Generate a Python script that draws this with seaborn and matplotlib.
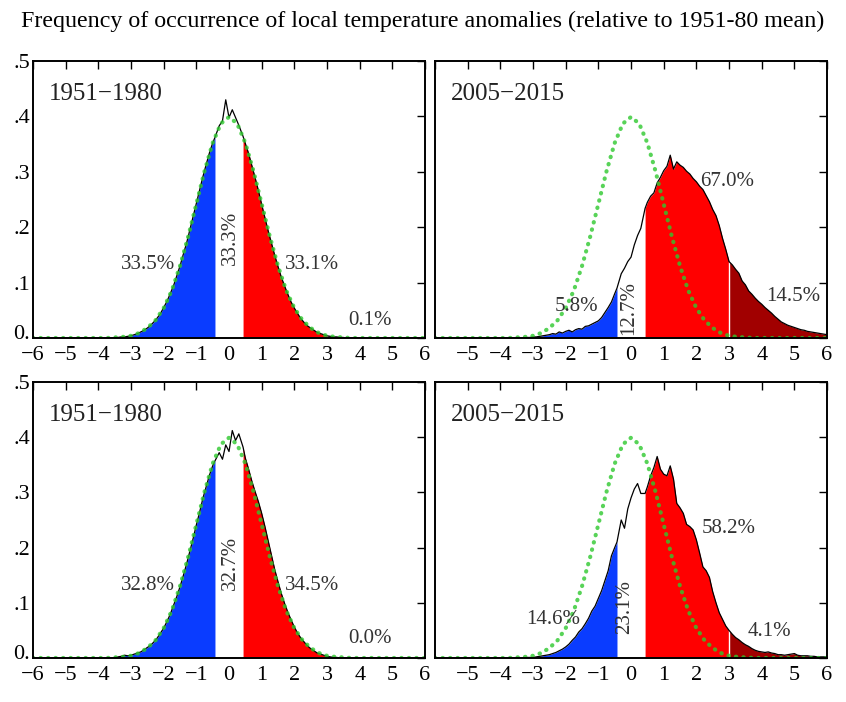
import numpy as np
import matplotlib
matplotlib.use("Agg")
import matplotlib.pyplot as plt
import matplotlib.transforms as mtransforms
import seaborn as sns

sns.set_theme(style="white")
plt.rcParams['font.family'] = ['Liberation Serif', 'DejaVu Serif']

# anomaly grid (sigma units), tercile edges at +-0.43 replace +-0.4
anom = np.round(np.arange(-60, 61) / 10, 2)
anom[anom == -0.4] = -0.43
anom[anom == 0.4] = 0.43

# frequency of occurrence (one value per grid point)
top_1951 = [0.0] * 25 + [
    0.001, 0.001, 0.002, 0.002, 0.003, 0.004, 0.006, 0.008, 0.011, 0.014,
    0.018, 0.023, 0.029, 0.036, 0.044, 0.055, 0.066, 0.080, 0.094, 0.112,
    0.130, 0.151, 0.171, 0.195, 0.219, 0.243, 0.267, 0.291, 0.313, 0.334,
    0.352, 0.362, 0.383, 0.392, 0.430, 0.398, 0.412, 0.398, 0.384, 0.364,
    0.351, 0.333, 0.311, 0.289, 0.266, 0.241, 0.217, 0.193, 0.171, 0.149,
    0.129, 0.110, 0.094, 0.079, 0.065, 0.054, 0.044, 0.035, 0.028, 0.022,
    0.018, 0.014, 0.010, 0.008, 0.006, 0.004, 0.003, 0.002, 0.002, 0.001,
    0.001] + [0.0] * 25

top_2005 = [0.0] * 25 + [
    0.0, 0.0, 0.0, 0.001, 0.001, 0.002, 0.002, 0.003, 0.004, 0.005,
    0.006, 0.008, 0.007, 0.011, 0.009, 0.012, 0.014, 0.011, 0.015, 0.017,
    0.016, 0.021, 0.022, 0.025, 0.028, 0.031, 0.037, 0.046, 0.055, 0.065,
    0.080, 0.090, 0.116, 0.126, 0.138, 0.146, 0.168, 0.185, 0.198, 0.234,
    0.245, 0.256, 0.262, 0.280, 0.290, 0.302, 0.310, 0.330, 0.305, 0.318,
    0.312, 0.308, 0.301, 0.296, 0.288, 0.282, 0.274, 0.268, 0.257, 0.246,
    0.232, 0.221, 0.203, 0.180, 0.160, 0.138, 0.132, 0.124, 0.117, 0.103,
    0.096, 0.085, 0.079, 0.072, 0.066, 0.061, 0.055, 0.050, 0.045, 0.039,
    0.034, 0.029, 0.026, 0.023, 0.021, 0.019, 0.017, 0.015, 0.014, 0.012,
    0.011, 0.010, 0.009, 0.008, 0.007, 0.006]

bottom_1951 = [0.0] * 25 + [
    0.001, 0.002, 0.003, 0.005, 0.004, 0.005, 0.007, 0.009, 0.011, 0.015,
    0.019, 0.023, 0.029, 0.036, 0.045, 0.054, 0.066, 0.079, 0.095, 0.111,
    0.129, 0.149, 0.170, 0.193, 0.216, 0.241, 0.264, 0.289, 0.310, 0.331,
    0.348, 0.357, 0.372, 0.360, 0.386, 0.374, 0.412, 0.394, 0.406, 0.382,
    0.362, 0.342, 0.320, 0.301, 0.283, 0.262, 0.238, 0.212, 0.186, 0.160,
    0.138, 0.117, 0.099, 0.083, 0.069, 0.056, 0.045, 0.036, 0.029, 0.022,
    0.017, 0.013, 0.009, 0.007, 0.005, 0.003, 0.002, 0.001, 0.001, 0.0,
    0.0] + [0.0] * 25

bottom_2005 = [0.0] * 25 + [
    0.0, 0.0, 0.0, 0.001, 0.001, 0.001, 0.002, 0.003, 0.004, 0.005,
    0.006, 0.008, 0.010, 0.013, 0.016, 0.020, 0.025, 0.032, 0.038, 0.047,
    0.053, 0.062, 0.072, 0.085, 0.094, 0.108, 0.122, 0.140, 0.158, 0.185,
    0.200, 0.210, 0.250, 0.235, 0.270, 0.290, 0.306, 0.316, 0.298, 0.298,
    0.310, 0.330, 0.345, 0.365, 0.342, 0.333, 0.330, 0.348, 0.324, 0.280,
    0.272, 0.262, 0.242, 0.238, 0.232, 0.214, 0.190, 0.165, 0.158, 0.146,
    0.120, 0.100, 0.082, 0.070, 0.058, 0.050, 0.043, 0.037, 0.033, 0.028,
    0.024, 0.021, 0.017, 0.014, 0.012, 0.011, 0.010, 0.011, 0.009, 0.008,
    0.006, 0.006, 0.005, 0.006, 0.007, 0.008, 0.005, 0.004, 0.004, 0.004,
    0.003, 0.003, 0.002, 0.002, 0.002, 0.002]

# 1951-80 normal reference curve (green dots)
ref_x = np.arange(-24, 25) / 4
ref_half = [0.0, 0.0, 0.0, 0.0, 0.0, 0.0, 0.0, 0.0, 0.0, 0.0, 0.001, 0.002,
            0.004, 0.009, 0.018, 0.032, 0.054, 0.086, 0.130, 0.183, 0.242,
            0.301, 0.352, 0.387]
ref_pdf = ref_half + [0.399] + ref_half[::-1]

periods = ["1951\u22121980", "2005\u22122015", "1951\u22121980", "2005\u22122015"]
pct_labels = [
    ["33.5%", "33.3%", "33.1%", "0.1%"],
    ["5.8%", "12.7%", "67.0%", "14.5%"],
    ["32.8%", "32.7%", "34.5%", "0.0%"],
    ["14.6%", "23.1%", "58.2%", "4.1%"],
]
series = [top_1951, top_2005, bottom_1951, bottom_2005]

# layout only
rects = [
    [0.0390, 0.5185, 0.4634, 0.3946],
    [0.5142, 0.5185, 0.4634, 0.3946],
    [0.0390, 0.0627, 0.4634, 0.3932],
    [0.5142, 0.0627, 0.4634, 0.3932],
]
pct_pos = [
    [(-2.48, 0.132), (0.03, 0.18), (2.54, 0.132), (4.32, 0.032)],
    [(-1.66, 0.057), (-0.08, 0.055), (2.93, 0.283), (4.97, 0.075)],
    [(-2.47, 0.132), (0.03, 0.172), (2.53, 0.132), (4.32, 0.036)],
    [(-2.38, 0.069), (-0.20, 0.093), (2.98, 0.235), (4.25, 0.048)],
]

fig = plt.figure(figsize=(8.46, 7.02), dpi=100)

for i in range(4):
    ax = fig.add_axes(rects[i])
    y = np.array(series[i])
    blue = anom <= -0.43
    red = (anom >= 0.43) & (anom <= 3.0)
    dark = anom >= 3.0
    ax.fill_between(anom, 0, y, where=blue, color="#0a3cff", lw=0)
    ax.fill_between(anom, 0, y, where=red, color="#ff0000", lw=0)
    ax.fill_between(anom, 0, y, where=dark, color="#a10000", lw=0)
    ax.vlines(3.0, 0, y[anom == 3.0][0], color="white", lw=1)
    sns.lineplot(x=anom, y=y, ax=ax, color="black", lw=0.9, sort=False)
    sns.lineplot(x=ref_x, y=ref_pdf, ax=ax, color="#2ec82e", lw=3.0, alpha=0.8,
                 linestyle=(0, (0.1, 1.7)), dash_capstyle="round")

    ax.set_xlim(-6, 6)
    ax.set_ylim(0, 0.5)
    ax.set_xticks(range(-6, 7))
    xlabels = [str(v).replace("-", "\u2212") for v in range(-6, 7)]
    if i % 2 == 1:
        xlabels[0] = ""
    ax.set_xticklabels(xlabels)
    ax.set_yticks([0, 0.1, 0.2, 0.3, 0.4, 0.5])
    ax.set_yticklabels(["0.", ".1", ".2", ".3", ".4", ".5"])
    ax.tick_params(direction="in", top=True, right=True, length=6, width=1,
                   labelsize=16, colors="black", labelleft=(i % 2 == 0))
    ax.tick_params(axis="x", pad=6)
    ax.tick_params(axis="y", pad=2)
    if i % 2 == 0:
        # lift the "0." label a little so it clears the "-6" below it
        zero_lab = ax.yaxis.get_major_ticks()[0].label1
        zero_lab.set_transform(zero_lab.get_transform() +
                               mtransforms.ScaledTranslation(0, 4 / 72, fig.dpi_scale_trans))
    for sp in ax.spines.values():
        sp.set_color("black")
        sp.set_linewidth(1.4)

    ax.text(-5.5, 0.44, periods[i], fontsize=18, color="#222222",
            ha="left", va="center")
    for j, lab in enumerate(pct_labels[i]):
        px, py = pct_pos[i][j]
        ax.text(px, py, lab, fontsize=15, color="#333333", ha="center",
                va="center", rotation=90 if j == 1 else 0)

fig.text(0.499, 0.970,
         "Frequency of occurrence of local temperature anomalies (relative to 1951-80 mean)",
         ha="center", va="center", fontsize=17.3, color="black")

fig.savefig("out.png", dpi=100)
